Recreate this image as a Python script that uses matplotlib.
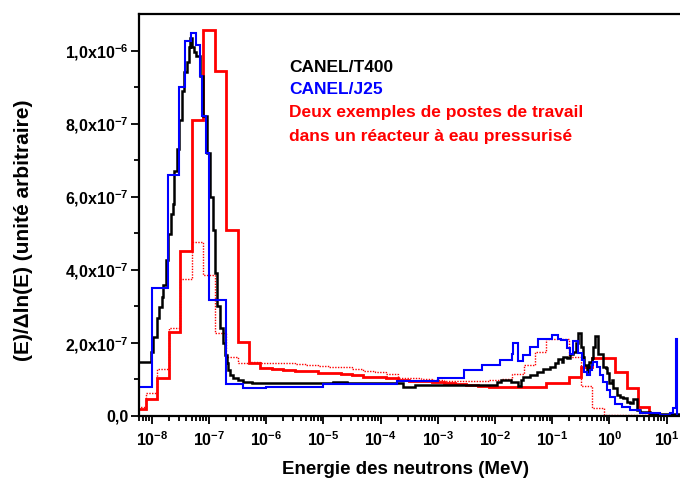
import numpy as np
import matplotlib
matplotlib.use('Agg')
import matplotlib.pyplot as plt
from matplotlib.ticker import FixedLocator, LogLocator, NullFormatter

# Spectres neutroniques : flux par unite de lethargie, en unites de 1e-7
# Energies des bornes de groupes en MeV

# CANEL/T400
t400_edges = [5e-9, 9.6e-9, 1.07e-8, 1.22e-8, 1.36e-8, 1.5e-8, 1.6e-8, 1.78e-8,
              1.95e-8, 2.15e-8, 2.33e-8, 2.45e-8, 2.77e-8, 3.06e-8, 3.39e-8,
              3.74e-8, 4.09e-8, 4.4e-8, 4.73e-8, 5.07e-8, 5.5e-8, 5.95e-8, 6.9e-8,
              7.9e-8, 9.1e-8, 1.05e-7, 1.16e-7, 1.28e-7, 1.4e-7, 1.56e-7, 1.74e-7,
              1.91e-7, 2.05e-7, 2.18e-7, 2.34e-7, 2.67e-7, 3.27e-7, 4.0e-7, 5.6e-7,
              3.9e-6, 1.48e-5, 2.6e-5, 2.5e-4, 4.0e-4, 1.1e-3, 3.7e-3, 1.09e-2,
              1.28e-2, 1.91e-2, 2.54e-2, 2.83e-2, 3.14e-2, 4.1e-2, 5.4e-2, 7.0e-2,
              9.2e-2, 0.112, 0.128, 0.147, 0.157, 0.18, 0.206, 0.235, 0.259, 0.28,
              0.314, 0.343, 0.366, 0.40, 0.447, 0.49, 0.525, 0.56, 0.64, 0.785,
              0.865, 0.90, 1.0, 1.10, 1.17, 1.35, 1.54, 1.76, 2.01, 2.3, 2.63, 3.0,
              3.44, 5.1, 7.7, 11.5, 17.2]
t400_flux = [1.47, 1.76, 2.17, 2.67, 2.99, 3.26, 3.58, 4.26, 4.99, 5.54, 5.8, 6.7,
             7.3, 8.1, 8.9, 9.4, 9.7, 10.1, 10.35, 10.1, 9.95, 9.85, 9.3, 8.2, 7.2,
             6.0, 5.1, 3.9, 3.0, 2.4, 2.0, 1.67, 1.44, 1.26, 1.12, 1.03, 0.98, 0.94,
             0.91, 0.89, 0.93, 0.89, 0.80, 0.86, 0.85, 0.84, 0.93, 0.98, 0.93, 0.82,
             0.98, 1.06, 1.12, 1.21, 1.28, 1.35, 1.44, 1.55, 1.48, 1.62, 1.58, 1.71,
             1.76, 1.99, 2.28, 1.89, 1.62, 1.39, 1.21, 1.48, 1.58, 1.89, 2.2, 1.71,
             1.35, 1.30, 1.17, 0.89, 0.98, 0.76, 0.57, 0.53, 0.48, 0.39, 0.36, 0.46,
             0.16, 0.10, 0.06, 0.05, 0.05]

# CANEL/J25
j25_edges = [5e-9, 1.0e-8, 1.95e-8, 3.0e-8, 3.8e-8, 4.9e-8, 5.9e-8, 6.9e-8, 7.7e-8,
             9.0e-8, 1.0e-7, 2.0e-7, 4.0e-7, 1.0e-6, 1.0e-5, 1.9e-4, 1.0e-3, 2.9e-3,
             5.9e-3, 1.23e-2, 1.97e-2, 2.07e-2, 2.56e-2, 3.06e-2, 4.1e-2, 5.7e-2,
             7.8e-2, 9.8e-2, 0.125, 0.143, 0.18, 0.206, 0.235, 0.287, 0.33, 0.36,
             0.40, 0.45, 0.49, 0.525, 0.60, 0.69, 0.785, 0.90, 1.03, 1.26, 1.65,
             2.3, 3.44, 7.7, 11.5, 13.1, 14.4, 15.2, 17.4]
j25_flux = [0.78, 3.5, 6.6, 9.0, 10.25, 10.48, 10.15, 9.3, 8.2, 7.2, 3.17, 0.87,
            0.77, 0.78, 0.88, 0.95, 1.05, 1.26, 1.39, 1.53, 1.71, 1.99, 1.51, 1.67,
            1.89, 2.1, 2.12, 2.21, 2.12, 2.08, 1.85, 1.71, 2.05, 1.72, 1.53, 1.21,
            1.12, 1.26, 1.39, 1.48, 1.35, 1.12, 0.94, 0.71, 0.53, 0.34, 0.25, 0.16,
            0.07, 0.03, 0.08, 0.22, 2.1, 0.0]

# Postes de travail REP : 5 groupes par decade
rep_edges = [5.01e-9, 7.94e-9,
             1.26e-8, 2.0e-8, 3.16e-8, 5.01e-8, 7.94e-8,
             1.26e-7, 2.0e-7, 3.16e-7, 5.01e-7, 7.94e-7,
             1.26e-6, 2.0e-6, 3.16e-6, 5.01e-6, 7.94e-6,
             1.26e-5, 2.0e-5, 3.16e-5, 5.01e-5, 7.94e-5,
             1.26e-4, 2.0e-4, 3.16e-4, 5.01e-4, 7.94e-4,
             1.26e-3, 2.0e-3, 3.16e-3, 5.01e-3, 7.94e-3,
             1.26e-2, 2.0e-2, 3.16e-2, 5.01e-2, 7.94e-2,
             0.126, 0.2, 0.316, 0.501, 0.794,
             1.26, 2.0, 3.16, 5.01, 7.94,
             12.6, 20.0]
rep1_flux = [0.18, 0.46, 1.05, 2.3, 4.51, 8.09, 10.55, 9.45, 5.1, 2.03, 1.44, 1.32,
             1.28, 1.26, 1.24, 1.22, 1.17, 1.17, 1.15, 1.13, 1.08, 1.07, 1.05, 0.98,
             0.97, 0.96, 0.94, 0.90, 0.87, 0.85, 0.82, 0.80, 0.79, 0.78, 0.78, 0.78,
             0.89, 0.89, 1.07, 1.35, 1.6, 1.6, 1.21, 0.76, 0.25, 0.03, 0.03, 0.03]
rep2_flux = [0.25, 0.62, 1.28, 2.4, 3.76, 4.75, 3.85, 2.28, 1.62, 1.44, 1.47, 1.44,
             1.44, 1.44, 1.42, 1.40, 1.38, 1.35, 1.33, 1.28, 1.24, 1.20, 1.15, 1.05,
             1.03, 1.0, 0.98, 0.97, 0.96, 0.96, 0.96, 0.98, 1.0, 1.15, 1.39, 1.76,
             2.1, 2.1, 1.62, 0.82, 0.21, 0.02, 0.02, 0.02, 0.02, 0.02, 0.02, 0.02]

unit = 1e-7

ytick_vals = [0, 2e-7, 4e-7, 6e-7, 8e-7, 1e-6]
ytick_labels = ['0,0', '2,0x10$^{-7}$', '4,0x10$^{-7}$', '6,0x10$^{-7}$',
                '8,0x10$^{-7}$', '1,0x10$^{-6}$']
yminor_vals = [1e-7, 3e-7, 5e-7, 7e-7, 9e-7]
xtick_vals = [1e-8, 1e-7, 1e-6, 1e-5, 1e-4, 1e-3, 1e-2, 1e-1, 1e0, 1e1]
xtick_labels = ['10$^{-8}$', '10$^{-7}$', '10$^{-6}$', '10$^{-5}$', '10$^{-4}$',
                '10$^{-3}$', '10$^{-2}$', '10$^{-1}$', '10$^{0}$', '10$^{1}$']

plt.rcParams['font.family'] = ['Liberation Sans', 'DejaVu Sans']
plt.rcParams['font.weight'] = 'bold'
plt.rcParams['mathtext.fontset'] = 'custom'
plt.rcParams['mathtext.rm'] = 'Liberation Sans:bold'
plt.rcParams['mathtext.it'] = 'Liberation Sans:bold'
plt.rcParams['mathtext.bf'] = 'Liberation Sans:bold'
plt.rcParams['mathtext.default'] = 'bf'

fig = plt.figure(figsize=(6.8, 4.82), dpi=100)
ax = fig.add_axes([139 / 680, 66 / 482, 541 / 680, 402 / 482])

ax.stairs(np.array(rep2_flux) * unit, rep_edges, baseline=None,
          color='#ff0000', lw=1.0, ls=(0, (1, 1)))
ax.stairs(np.array(rep1_flux) * unit, rep_edges, baseline=None,
          color='#ff0000', lw=2.0)
ax.stairs(np.array(t400_flux) * unit, t400_edges, baseline=None,
          color='black', lw=1.8)
ax.stairs(np.array(j25_flux) * unit, j25_edges, baseline=None,
          color='#0000ff', lw=1.5)

ax.set_xscale('log')
ax.set_xlim(6.0e-9, 17.1)
ax.set_ylim(0, 1.1e-6)

ax.yaxis.set_major_locator(FixedLocator(ytick_vals))
ax.set_yticklabels(ytick_labels)
ax.yaxis.set_minor_locator(FixedLocator(yminor_vals))
ax.set_xticks(xtick_vals, xtick_labels)
ax.xaxis.set_minor_locator(LogLocator(base=10, subs=np.arange(2, 10), numticks=30))
ax.xaxis.set_minor_formatter(NullFormatter())

ax.tick_params(which='both', direction='out', width=1.3, top=False, right=False)
ax.tick_params(which='major', length=6, labelsize=11.5)
ax.tick_params(axis='y', which='major', pad=1.5)
ax.tick_params(axis='x', which='major', pad=4)
ax.tick_params(which='minor', length=3.5)

for side in ['left', 'bottom', 'top']:
    ax.spines[side].set_linewidth(1.6)
ax.spines['right'].set_visible(False)

# legende en texte colore
fig.text(289 / 680, 1 - 68 / 482, 'CANEL/T400', color='black',
         fontsize=12.5, fontweight='bold', va='center')
fig.text(289 / 680, 1 - 90 / 482, 'CANEL/J25', color='#0000ff',
         fontsize=12.5, fontweight='bold', va='center')
fig.text(289 / 680, 1 - 113 / 482, 'Deux exemples de postes de travail',
         color='#ff0000', fontsize=12.5, fontweight='bold', va='center')
fig.text(289 / 680, 1 - 136 / 482, 'dans un réacteur à eau pressurisé',
         color='#ff0000', fontsize=12.5, fontweight='bold', va='center')

fig.text(405 / 680, 1 - 470 / 482, 'Energie des neutrons (MeV)',
         fontsize=13.5, fontweight='bold', ha='center', va='center')
fig.text(24 / 680, 1 - 230 / 482, '(E)/\u0394ln(E) (unité arbitraire)',
         fontsize=15, fontweight='bold', ha='center', va='center', rotation=90)

fig.savefig('out.png', dpi=100, facecolor='white')
